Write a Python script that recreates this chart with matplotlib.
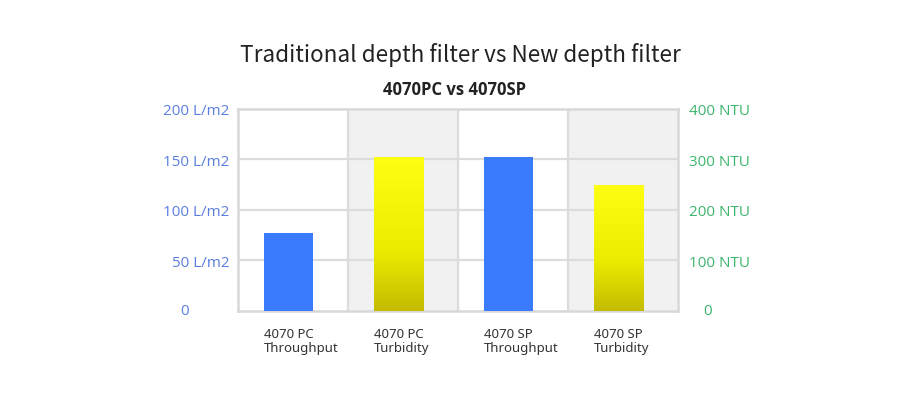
import numpy as np
import matplotlib.pyplot as plt
from matplotlib.colors import LinearSegmentedColormap

# data
categories = ['4070 PC\nThroughput', '4070 PC\nTurbidity', '4070 SP\nThroughput', '4070 SP\nTurbidity']
throughput = [77, 152]      # L/m2, for PC and SP
turbidity = [304, 250]      # NTU, for PC and SP
left_ticks = [0, 50, 100, 150, 200]
right_ticks = [0, 100, 200, 300, 400]

blue = '#3a7bfc'
yellow_cmap = LinearSegmentedColormap.from_list(
    'yel', [(0, '#c4bb00'), (0.4, '#ecec00'), (1, '#ffff14')])

fig = plt.figure(figsize=(9, 4.02), dpi=100)
ax = fig.add_axes([0.2644, 0.2239, 0.4889, 0.5025])
ax2 = ax.twinx()

x = np.arange(len(categories))
w = 0.45
off = -0.04  # bars sit a bit left of the column centre

# alternating column bands
for i in x:
    if i % 2 == 1:
        ax.axvspan(i - 0.5, i + 0.5, color='#f1f1f1', zorder=0)
for i in range(1, len(categories)):
    ax.axvline(i - 0.5, color='#dcdcdc', lw=1.6, zorder=1)
for t in left_ticks[1:-1]:
    ax.axhline(t, color='#dcdcdc', lw=1.6, zorder=1)

ax.set_xlim(-0.5, len(categories) - 0.5)
ax.set_ylim(0, 200)

# throughput bars on left axis
ax.bar(x[0::2] + off, throughput, width=w, color=blue, zorder=3)

# turbidity bars with a vertical gradient on right axis
grad = np.linspace(0, 1, 256).reshape(-1, 1)
bars = ax2.bar(x[1::2] + off, turbidity, width=w, color='none', zorder=3)
for b in bars:
    x0, h = b.get_x(), b.get_height()
    im = ax2.imshow(grad, cmap=yellow_cmap, origin='lower', aspect='auto',
                    extent=[x0, x0 + b.get_width(), 0, h], zorder=3)
    im.set_clip_path(b)
ax2.set_xlim(-0.5, len(categories) - 0.5)
ax2.set_ylim(0, 400)

for s in ax.spines.values():
    s.set_color('#d8d8d8')
    s.set_linewidth(1.8)
for s in ax2.spines.values():
    s.set_visible(False)

ax.set_xticks(x)
ax.set_xticklabels([])
ax.tick_params(length=0)
ax2.tick_params(length=0)

ax.set_yticks(left_ticks)
ax.set_yticklabels([''] + ['%d L/m2' % t for t in left_ticks[1:]],
                   color='#5a7fe0', fontsize=11, family='Open Sans')
ax.tick_params(axis='y', pad=6)
ax.text(-0.122, 0, '0', transform=ax.get_yaxis_transform(), ha='center', va='center',
        color='#5a7fe0', fontsize=11, family='Open Sans')

ax2.set_yticks(right_ticks)
ax2.set_yticklabels([''] + ['%d NTU' % t for t in right_ticks[1:]],
                    color='#3cb56c', fontsize=11, family='Open Sans')
ax2.tick_params(axis='y', pad=8)
ax2.text(1.068, 0, '0', transform=ax2.get_yaxis_transform(), ha='center', va='center',
         color='#3cb56c', fontsize=11, family='Open Sans')

# category labels, left aligned with the bar edge
for i, lab in zip(x, categories):
    ax.text(i + off - w / 2, -16, lab, ha='left', va='top', fontsize=9.5,
            color='#333333', family='Noto Sans', linespacing=1.1)

fig.text(0.511, 0.862, 'Traditional depth filter vs New depth filter', ha='center', va='center',
         fontsize=16.2, color='#222222', family='Noto Sans CJK SC', fontweight='light')
fig.text(0.505, 0.776, '4070PC vs 4070SP', ha='center', va='center',
         fontsize=12, fontweight='bold', color='#222222', family='Open Sans')

fig.savefig('out.png', dpi=100)
